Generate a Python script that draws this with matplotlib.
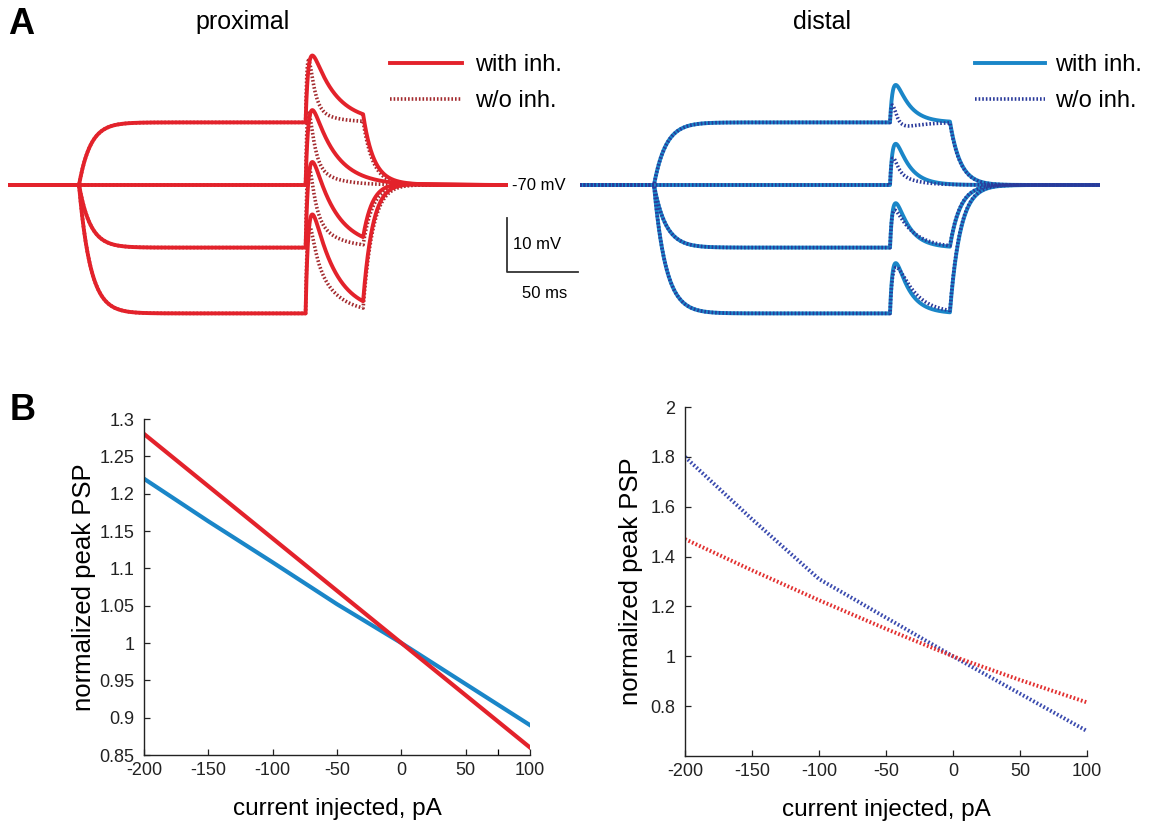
import numpy as np
import matplotlib.pyplot as plt
from matplotlib.lines import Line2D

plt.rcParams['font.family'] = ['Liberation Sans', 'DejaVu Sans']
plt.rcParams['axes.unicode_minus'] = False

# ---------------- panel A: step protocol and PSP sizes
t_step_on = 50.0      # ms
t_step_off = 250.0    # ms
t_syn = 209.5         # ms, synaptic input
v_rest = -70.0        # mV
step_dv = [11.7, 0.0, -11.7, -24.0]            # mV, steady shift per current step
prox_psp_with = [12.5, 14.0, 16.0, 18.5]       # mV, peak PSP with inhibition
prox_psp_wo_fast = [10.0, 11.0, 11.0, 8.0]     # mV, fast part w/o inhibition
prox_psp_wo_slow = [2.0, 3.0, 5.0, 9.5]        # mV, slow part w/o inhibition
dist_psp_with = [7.0, 7.7, 8.3, 9.4]
dist_psp_wo_fast = [4.0, 4.0, 3.0, 2.0]
dist_psp_wo_slow = [-1.2, 1.5, 5.0, 7.5]

# ---------------- panel B
current_pA = [-200, -150, -100, -50, 0, 50, 100]
prox_with_inh = [1.28, 1.21, 1.14, 1.07, 1.0, 0.93, 0.86]
dist_with_inh = [1.22, 1.163, 1.108, 1.052, 1.0, 0.945, 0.89]
prox_wo_inh = [1.47, 1.345, 1.225, 1.11, 1.0, 0.905, 0.815]
dist_wo_inh = [1.80, 1.55, 1.31, 1.155, 1.0, 0.85, 0.70]

red = '#E3222B'
blue = '#1A86C8'
dred = '#A32A2E'
navy = '#2A3A9B'

W, H = 1157, 824
fig = plt.figure(figsize=(W / 100, H / 100), dpi=100)


def px_axes(x0, y0, x1, y1):
    return fig.add_axes([x0 / W, 1 - y1 / H, (x1 - x0) / W, (y1 - y0) / H])


def step_response(t, dv, tau_on=8.0, tau_off=7.0):
    v = np.zeros_like(t)
    on = (t >= t_step_on) & (t < t_step_off)
    v[on] = dv * (1 - np.exp(-(t[on] - t_step_on) / tau_on))
    v_end = dv * (1 - np.exp(-(t_step_off - t_step_on) / tau_on))
    after = t >= t_step_off
    v[after] = v_end * np.exp(-(t[after] - t_step_off) / tau_off)
    return v


def psp(t, amp, tau_r, tau_d):
    s = np.clip(t - t_syn, 0, None)
    k = np.exp(-s / tau_d) - np.exp(-s / tau_r)
    tp = np.log(tau_d / tau_r) * tau_d * tau_r / (tau_d - tau_r)
    kmax = np.exp(-tp / tau_d) - np.exp(-tp / tau_r)
    return amp * k / kmax


dots = (0, (0.45, 0.55))
t = np.arange(0, 352, 0.1)

#%% proximal traces
ax = px_axes(8, 35.2, 508, 334.8)
for i in range(4):
    base = v_rest + step_response(t, step_dv[i])
    ax.plot(t, base + psp(t, prox_psp_with[i], 2.0, 16.0),
            color=red, lw=2.8, zorder=3)
    ax.plot(t, base + psp(t, prox_psp_wo_fast[i], 1.2, 3.5)
            + psp(t, prox_psp_wo_slow[i], 2.0, 15.0),
            color=dred, lw=2.6, ls=dots, zorder=2)
ax.set_xlim(0, 352)
ax.set_ylim(-98, -42)
ax.axis('off')
# scale bar
ax.plot([351.5, 351.5, 401.5], [-76.2, -86.2, -86.2], color='#333333', lw=1.3,
        clip_on=False)
ax.text(355, -70, '-70 mV', fontsize=12, va='center', ha='left')
ax.text(355.6, -81.2, '10 mV', fontsize=12, va='center', ha='left')
ax.text(378, -90.2, '50 ms', fontsize=12, va='center', ha='center')
ax.legend([Line2D([], [], color=red, lw=2.8),
           Line2D([], [], color=dred, lw=2.6, ls=dots)],
          ['with inh.', 'w/o inh.'], loc='upper left',
          bbox_to_anchor=(390 / W, 1 - 54 / H), bbox_transform=fig.transFigure,
          frameon=False, fontsize=17, handlelength=3.05, handletextpad=0.55,
          borderpad=0, borderaxespad=0, labelspacing=0.6)

#%% distal traces
ax = px_axes(580, 35.2, 1100, 334.8)
for i in range(4):
    base = v_rest + step_response(t, step_dv[i])
    ax.plot(t, base + psp(t, dist_psp_with[i], 2.0, 9.0),
            color=blue, lw=2.8, zorder=2)
    ax.plot(t, base + psp(t, dist_psp_wo_fast[i], 1.2, 3.0)
            + psp(t, dist_psp_wo_slow[i], 3.0, 12.0),
            color=navy, lw=2.6, ls=dots, zorder=3)
ax.set_xlim(0, 351.4)
ax.set_ylim(-98, -42)
ax.axis('off')
ax.legend([Line2D([], [], color=blue, lw=2.8),
           Line2D([], [], color=navy, lw=2.6, ls=dots)],
          ['with inh.', 'w/o inh.'], loc='upper left',
          bbox_to_anchor=(975 / W, 1 - 54 / H), bbox_transform=fig.transFigure,
          frameon=False, fontsize=17, handlelength=2.95, handletextpad=0.45,
          borderpad=0, borderaxespad=0, labelspacing=0.6)

fig.text(243 / W, 1 - 22 / H, 'proximal', fontsize=18, ha='center', va='center')
fig.text(822 / W, 1 - 22 / H, 'distal', fontsize=18, ha='center', va='center')
fig.text(21 / W, 1 - 25 / H, 'A', fontsize=26, fontweight='bold', ha='center', va='center')
fig.text(23 / W, 1 - 410 / H, 'B', fontsize=26, fontweight='bold', ha='center', va='center')


def style_b(ax):
    for s in ['top', 'right']:
        ax.spines[s].set_visible(False)
    for s in ['left', 'bottom']:
        ax.spines[s].set_linewidth(1.0)
        ax.spines[s].set_color('#222222')
    ax.tick_params(direction='in', length=4, width=0.9, labelsize=13,
                   colors='#222222')
    ax.tick_params(axis='x', pad=5)
    ax.tick_params(axis='y', pad=7)
    ax.tick_params(which='minor', direction='in', length=4, width=0.9)
    ax.set_xlim(-200, 100)
    ax.set_xticks([-200, -150, -100, -50, 0, 50, 100])
    ax.set_xlabel('current injected, pA', fontsize=17.5, labelpad=14)
    ax.set_ylabel('normalized peak PSP', fontsize=18.5)


#%% B left
ax = px_axes(144, 419, 530, 755)
ax.plot(current_pA, dist_with_inh, color=blue, lw=3)
ax.plot(current_pA, prox_with_inh, color=red, lw=3)
style_b(ax)
ax.set_xticks([75], minor=True)
ax.set_ylim(0.85, 1.3)
yt = np.round(np.arange(0.85, 1.301, 0.05), 2)
ax.set_yticks(yt)
ax.set_yticklabels(['%g' % v for v in yt])
ax.yaxis.labelpad = 2

#%% B right
ax = px_axes(685, 407, 1087, 756)
ax.plot(current_pA, dist_wo_inh, color='#3A4AAE', lw=2.8, ls=dots)
ax.plot(current_pA, prox_wo_inh, color='#E23030', lw=2.8, ls=dots)
style_b(ax)
ax.set_ylim(0.6, 2)
yt = np.round(np.arange(0.8, 2.01, 0.2), 1)
ax.set_yticks(yt)
ax.set_yticklabels(['%g' % v for v in yt])
ax.yaxis.labelpad = 5

fig.savefig('out.png', dpi=100)
